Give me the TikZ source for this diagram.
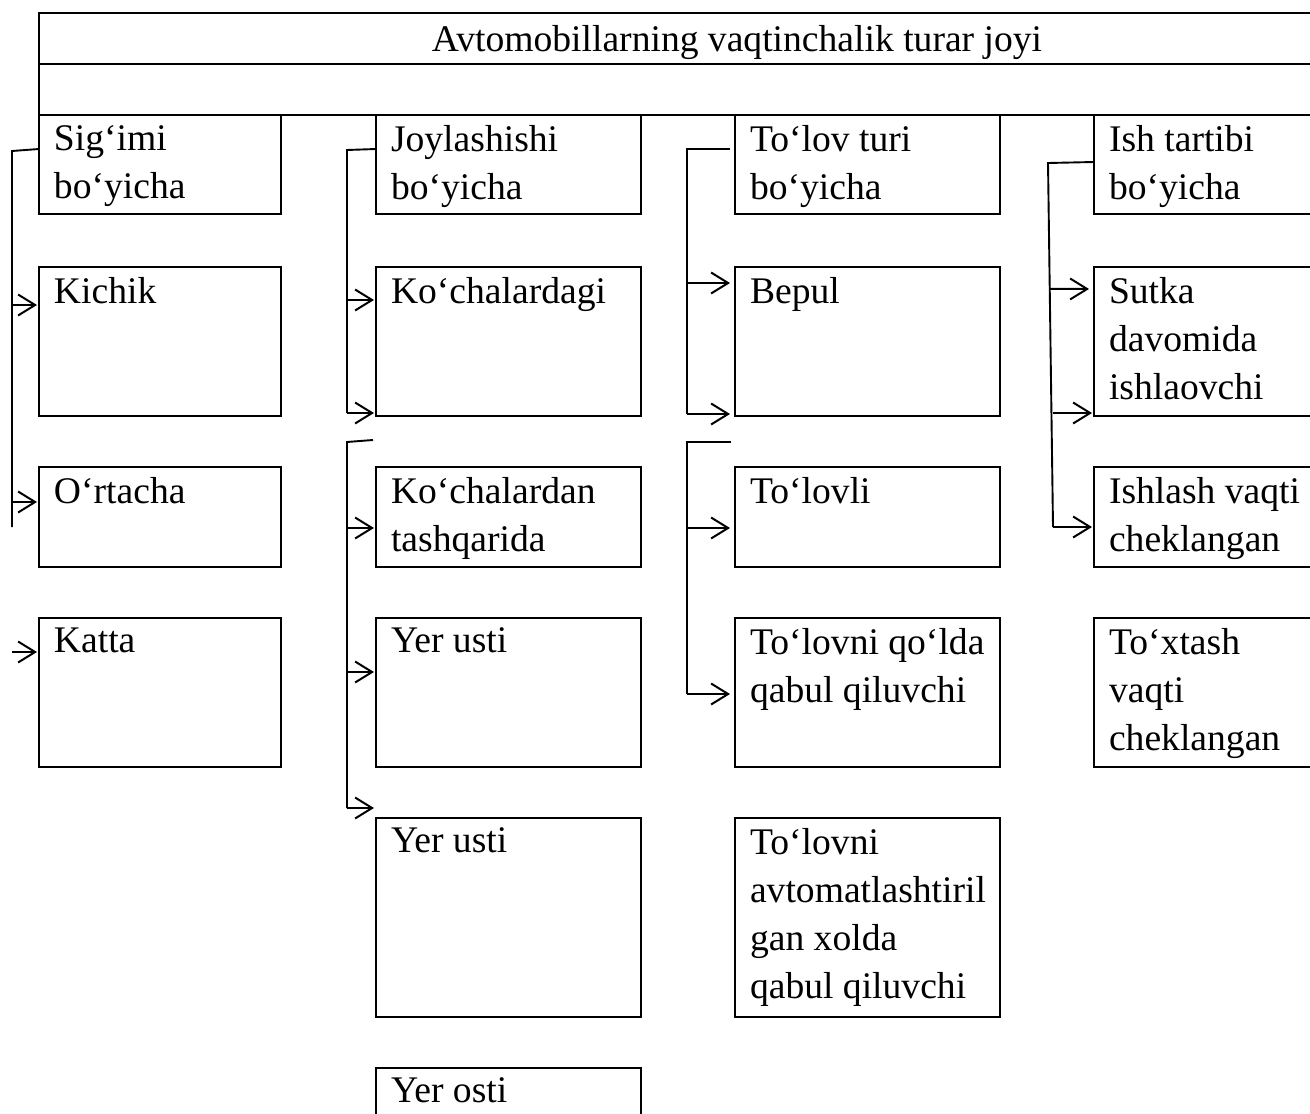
\documentclass[tikz,border=0pt]{standalone}
\usepackage{fontspec}
\setmainfont{Liberation Serif}
\usetikzlibrary{arrows.meta,calc}
\begin{document}
\begin{tikzpicture}[x=0.5pt,y=-0.5pt,
  boxst/.style={draw, line width=1.3pt, inner sep=0pt, outer sep=0pt, anchor=north west},
  lbl/.style={inner sep=0pt, outer sep=0pt, anchor=north west, align=left, font=\fontsize{18.8}{24}\selectfont},
  conn/.style={line width=0.95pt},
  arr/.style={line width=1pt, -{Straight Barb[length=8.5pt,width=10.5pt]}, shorten >=1pt},
  arrb/.style={arr, shorten >=2.5pt}]
\useasboundingbox (0,0) rectangle (1310,1113);
\clip (0,0) rectangle (1310,1113);
\newcommand\bx[6]{%
  \node[boxst, minimum width=#4*0.5pt, minimum height=#5*0.5pt] (#1) at (#2,#3) {};
  \node[lbl] (#1t) at ([shift={(15,10)}]#1.north west) {#6};}
% title
\node[boxst, minimum width=1400*0.5pt, minimum height=51*0.5pt] (ttl) at (39,13) {};
\node[boxst, minimum width=1400*0.5pt, minimum height=51*0.5pt] (sub) at (39,64) {};
\node[inner sep=0pt, anchor=base, font=\fontsize{18.8}{24}\selectfont] (ttltext) at (737,52) {Avtomobillarning vaqtinchalik turar joyi};
% column 1
\bx{sig}{39}{115}{242}{99}{Sig‘imi\\bo‘yicha}
\bx{kichik}{39}{267}{242}{149}{Kichik}
\bx{ortacha}{39}{467}{242}{100}{O‘rtacha}
\bx{katta}{39}{618}{242}{149}{Katta}
% column 2
\bx{joy}{376}{115}{265}{99}{Joylashishi\\bo‘yicha}
\bx{kocha1}{376}{267}{265}{149}{Ko‘chalardagi}
\bx{kocha2}{376}{467}{265}{100}{Ko‘chalardan\\tashqarida}
\bx{yer1}{376}{618}{265}{149}{Yer usti}
\bx{yer2}{376}{818}{265}{199}{Yer usti}
\bx{yerosti}{376}{1068}{265}{100}{Yer osti}
% column 3
\bx{tolov}{735}{115}{265}{99}{To‘lov turi\\bo‘yicha}
\bx{bepul}{735}{267}{265}{149}{Bepul}
\bx{tolovli}{735}{467}{265}{100}{To‘lovli}
\bx{qolda}{735}{618}{265}{149}{To‘lovni qo‘lda\\qabul qiluvchi}
\bx{avto}{735}{818}{265}{199}{To‘lovni\\avtomatlashtiril\\gan xolda\\qabul qiluvchi}
% column 4
\bx{ish}{1094}{115}{260}{99}{Ish tartibi\\bo‘yicha}
\bx{sutka}{1094}{267}{260}{149}{Sutka\\davomida\\ishlaovchi}
\bx{ishlash}{1094}{467}{260}{100}{Ishlash vaqti\\cheklangan}
\bx{toxtash}{1094}{618}{260}{149}{To‘xtash\\vaqti\\cheklangan}
% connectors column 1
\coordinate (c1a) at (12,151);
\coordinate (c1b) at (12,527);
\draw[conn] ([yshift=-17pt]sig.north west) -- (c1a) -- (c1b);
\coordinate (t11) at ([yshift=-19pt]kichik.north west);
\coordinate (t12) at ([yshift=-17.5pt]ortacha.north west);
\coordinate (t13) at ([yshift=-17pt]katta.north west);
\draw[arr] (c1a |- t11) -- (t11);
\draw[arr] (c1a |- t12) -- (t12);
\draw[arr] (c1a |- t13) -- (t13);
% connectors column 2
\coordinate (c2a) at (347,150);
\coordinate (c2b) at (347,413);
\draw[conn] ([yshift=-17pt]joy.north west) -- (c2a) -- (c2b);
\coordinate (t21) at ([yshift=-16.5pt]kocha1.north west);
\draw[arr] (c2a |- t21) -- (t21);
\draw[arr] (c2b) -- (c2b -| kocha1.west);
\coordinate (c2c) at (373,440);
\coordinate (c2d) at (347,442);
\coordinate (c2e) at (347,808);
\draw[conn] (c2c) -- (c2d) -- (c2e);
\coordinate (t22) at ([yshift=-30.5pt]kocha2.north west);
\coordinate (t23) at ([yshift=-27pt]yer1.north west);
\draw[arr] (c2d |- t22) -- (t22);
\draw[arr] (c2d |- t23) -- (t23);
\draw[arr] (c2e) -- (c2e -| yer2.west);
% connectors column 3
\coordinate (c3a) at (687,149);
\coordinate (c3b) at (687,414);
\draw[conn] ([xshift=-2.5pt,yshift=-17pt]tolov.north west) -- (c3a) -- (c3b);
\coordinate (t31) at ([yshift=-8pt]bepul.north west);
\draw[arrb] (c3a |- t31) -- (t31);
\draw[arrb] (c3b) -- (c3b -| bepul.west);
\coordinate (c3c) at (731,442);
\coordinate (c3d) at (687,442);
\coordinate (c3e) at (687,694);
\draw[conn] (c3c) -- (c3d) -- (c3e);
\coordinate (t32) at ([yshift=-30.5pt]tolovli.north west);
\draw[arrb] (c3d |- t32) -- (t32);
\draw[arrb] (c3e) -- (c3e -| qolda.west);
% connectors column 4
\coordinate (c4a) at (1048,163);
\coordinate (c4b) at (1053,527);
\draw[conn] ([yshift=-23.5pt]ish.north west) -- (c4a) -- (c4b);
\coordinate (t41) at ([yshift=-11pt]sutka.north west);
\coordinate (t42) at ([yshift=1.5pt]sutka.south west);
\draw[arrb] ($(c4a)!0.346!(c4b)$ |- t41) -- (t41);
\draw[arr] (c4b |- t42) -- (t42);
\draw[arr] (c4b) -- (c4b -| ishlash.west);
\end{tikzpicture}
\end{document}
